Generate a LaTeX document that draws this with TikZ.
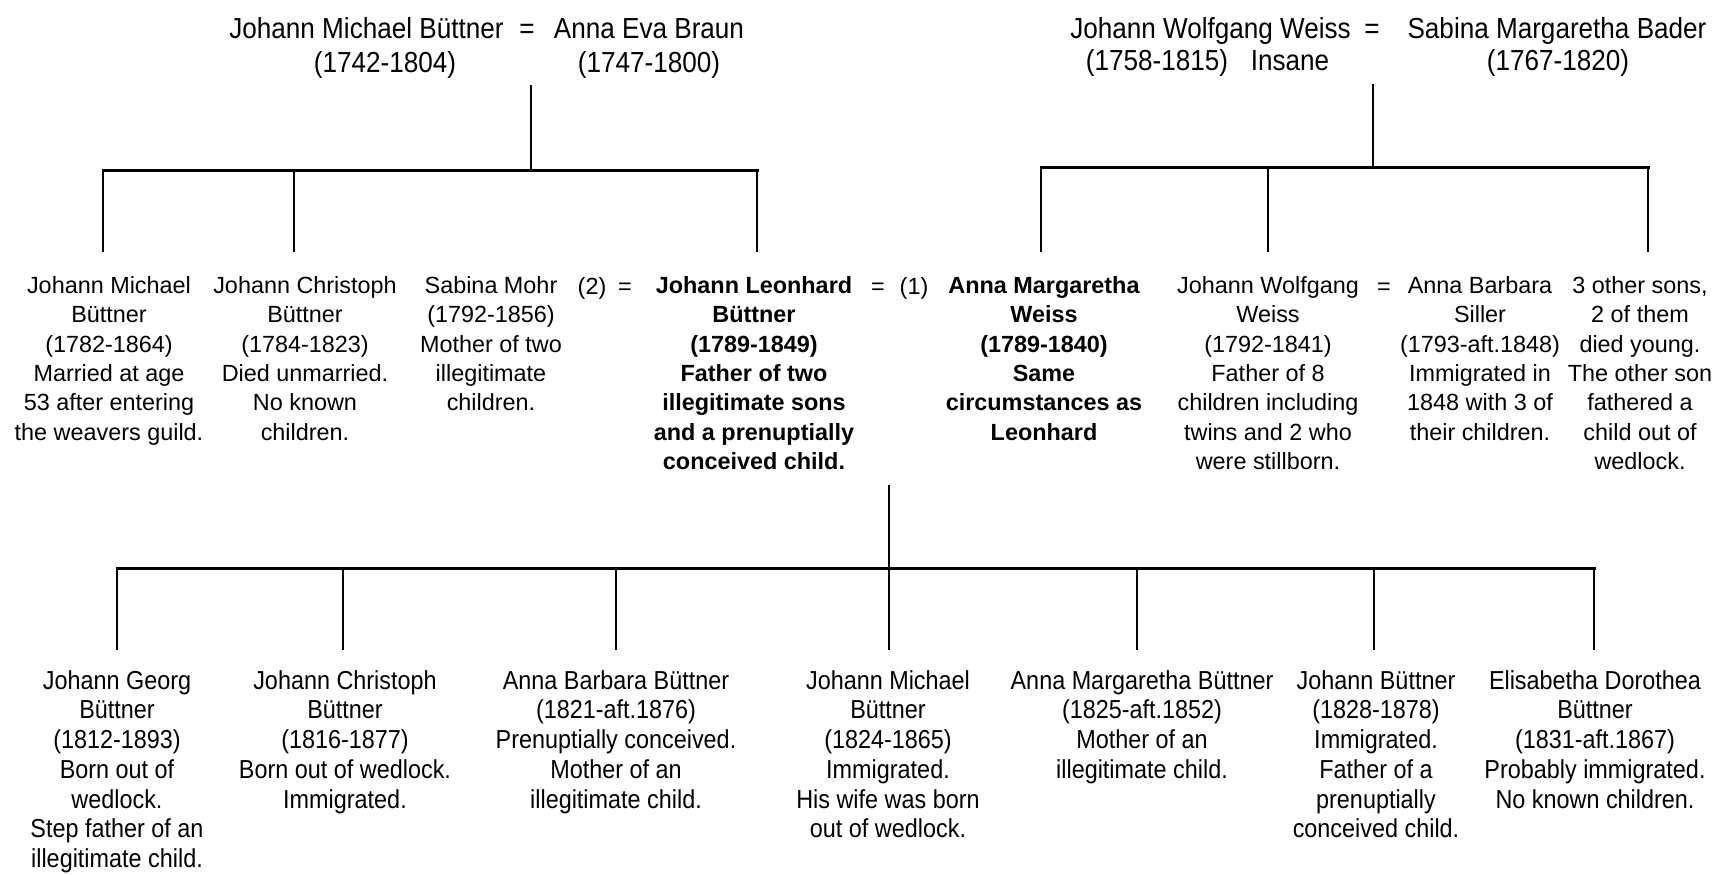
\documentclass[tikz,border=0pt]{standalone}
\usepackage{fontspec}
\setmainfont{Liberation Sans}
\newfontfamily\narrowsans{Liberation Sans}[FakeStretch=0.9]
\tikzset{
  toptext/.style={font=\narrowsans\fontsize{14.5pt}{16.5pt}\selectfont, inner sep=0pt, anchor=base},
  midtext/.style={font=\fontsize{11.7pt}{14.7pt}\selectfont, align=center, inner sep=0pt, anchor=north},
  midbold/.style={font=\bfseries\fontsize{11.7pt}{14.7pt}\selectfont, align=center, inner sep=0pt, anchor=north},
  midsign/.style={font=\fontsize{11.7pt}{14.7pt}\selectfont, inner sep=0pt, anchor=base},
  lowtext/.style={font=\narrowsans\fontsize{13pt}{14.85pt}\selectfont, align=center, inner sep=0pt, anchor=north},
  stem/.style={line width=1pt},
  bar/.style={line width=1.5pt, line cap=rect},
}
\begin{document}
\begin{tikzpicture}[x=0.5pt,y=-0.5pt]
\fill[white] (0,0) rectangle (1718,874);
\useasboundingbox (0,0) rectangle (1718,874);

% ---------- top left couple ----------
\node[toptext] (jmbS)  at (366.5,38) {Johann Michael Büttner};
\node[toptext] (eqA)   at (527,38)   {=};
\node[toptext] (aeb)   at (649,38)   {Anna Eva Braun};
\node[toptext] (jmbSd) at (385,72)   {(1742-1804)};
\node[toptext] (aebd)  at (649,72)   {(1747-1800)};

% ---------- top right couple ----------
\node[toptext] (jwwS)  at (1210.5,38) {Johann Wolfgang Weiss};
\node[toptext] (eqB)   at (1372,38)   {=};
\node[toptext] (smb)   at (1557,38)   {Sabina Margaretha Bader};
\node[toptext] (jwwSd) at (1157,70)   {(1758-1815)};
\node[toptext] (insane) at (1290,70)  {Insane};
\node[toptext] (smbd)  at (1558,70)   {(1767-1820)};

% ---------- middle generation ----------
\node[midtext] (m1) at (109,276) {Johann Michael\\Büttner\\(1782-1864)\\Married at age\\53 after entering\\the weavers guild.};
\node[midtext] (m2) at (305,276) {Johann Christoph\\Büttner\\(1784-1823)\\Died unmarried.\\No known\\children.};
\node[midtext] (m3) at (491,276) {Sabina Mohr\\(1792-1856)\\Mother of two\\illegitimate\\children.};
\node[midsign] (two) at (592,294) {(2)};
\node[midsign] (eqM1) at (625,294) {=};
\node[midbold] (m4) at (754,276) {Johann Leonhard\\Büttner\\(1789-1849)\\Father of two\\illegitimate sons\\and a prenuptially\\conceived child.};
\node[midsign] (eqM2) at (878,294) {=};
\node[midsign] (one) at (914,294) {(1)};
\node[midbold] (m5) at (1044,276) {Anna Margaretha\\Weiss\\(1789-1840)\\Same\\circumstances as\\Leonhard};
\node[midtext] (m6) at (1268,276) {Johann Wolfgang\\Weiss\\(1792-1841)\\Father of 8\\children including\\twins and 2 who\\were stillborn.};
\node[midsign] (eqM3) at (1384,294) {=};
\node[midtext] (m7) at (1480,276) {Anna Barbara\\Siller\\(1793-aft.1848)\\Immigrated in\\1848 with 3 of\\their children.};
\node[midtext] (m8) at (1640,276) {3 other sons,\\2 of them\\died young.\\The other son\\fathered a\\child out of\\wedlock.};

% ---------- youngest generation ----------
\node[lowtext] (b1) at (117,670) {Johann Georg\\Büttner\\(1812-1893)\\Born out of\\wedlock.\\Step father of an\\illegitimate child.};
\node[lowtext] (b2) at (345,670) {Johann Christoph\\Büttner\\(1816-1877)\\Born out of wedlock.\\Immigrated.};
\node[lowtext] (b3) at (616,670) {Anna Barbara Büttner\\(1821-aft.1876)\\Prenuptially conceived.\\Mother of an\\illegitimate child.};
\node[lowtext] (b4) at (888,670) {Johann Michael\\Büttner\\(1824-1865)\\Immigrated.\\His wife was born\\out of wedlock.};
\node[lowtext] (b5) at (1142,670) {Anna Margaretha Büttner\\(1825-aft.1852)\\Mother of an\\illegitimate child.};
\node[lowtext] (b6) at (1376,670) {Johann Büttner\\(1828-1878)\\Immigrated.\\Father of a\\prenuptially\\conceived child.};
\node[lowtext] (b7) at (1595,670) {Elisabetha Dorothea\\Büttner\\(1831-aft.1867)\\Probably immigrated.\\No known children.};

% ---------- connector coordinates ----------
\coordinate (cL) at (531,85);   \coordinate (bL) at (531,170);
\coordinate (bL1) at (103,170); \coordinate (bL2) at (293.5,170); \coordinate (bL3) at (757,170);
\coordinate (dL1) at (103,252); \coordinate (dL2) at (293.5,252); \coordinate (dL3) at (757,252);

\coordinate (cR) at (1373,84);  \coordinate (bR) at (1373,167);
\coordinate (bR1) at (1041,167); \coordinate (bR2) at (1268,167); \coordinate (bR3) at (1648,167);
\coordinate (dR1) at (1041,252); \coordinate (dR2) at (1268,252); \coordinate (dR3) at (1648,252);

\coordinate (cM) at (888.5,485); \coordinate (bM) at (888.5,568);
\coordinate (bM1) at (117,568); \coordinate (bM2) at (343,568); \coordinate (bM3) at (616,568);
\coordinate (bM5) at (1137,568); \coordinate (bM6) at (1374,568); \coordinate (bM7) at (1594,568);
\coordinate (dM1) at (117,650); \coordinate (dM2) at (343,650); \coordinate (dM3) at (616,650);
\coordinate (dM4) at (888.5,650); \coordinate (dM5) at (1137,650); \coordinate (dM6) at (1374,650);
\coordinate (dM7) at (1594,650);

% ---------- connectors ----------
\draw[stem] (cL) -- (bL);
\draw[bar] (bL1) -- (bL3);
\draw[stem] (bL1) -- (dL1);
\draw[stem] (bL2) -- (dL2);
\draw[stem] (bL3) -- (dL3);

\draw[stem] (cR) -- (bR);
\draw[bar] (bR1) -- (bR3);
\draw[stem] (bR1) -- (dR1);
\draw[stem] (bR2) -- (dR2);
\draw[stem] (bR3) -- (dR3);

\draw[stem] (cM) -- (dM4);
\draw[bar] (bM1) -- (bM7);
\draw[stem] (bM1) -- (dM1);
\draw[stem] (bM2) -- (dM2);
\draw[stem] (bM3) -- (dM3);
\draw[stem] (bM5) -- (dM5);
\draw[stem] (bM6) -- (dM6);
\draw[stem] (bM7) -- (dM7);
\end{tikzpicture}
\end{document}
